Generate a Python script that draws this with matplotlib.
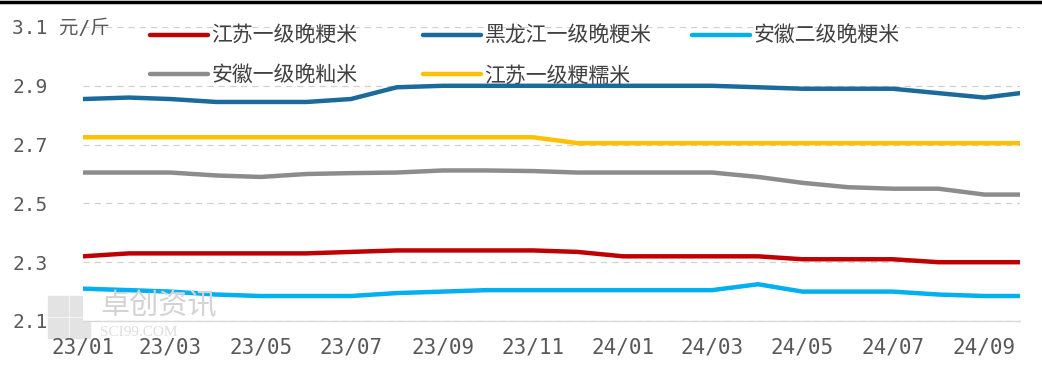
"""Rice price trends, 23/01 - 24/09
"""
import matplotlib as mpl
import matplotlib.pyplot as plt
import matplotlib.dates as mdates
import matplotlib.patches as mpatches
from matplotlib.lines import Line2D
import pandas as pd

mpl.rcParams['font.family'] = ['DejaVu Sans Mono', 'Noto Sans CJK SC']

dates = list(pd.date_range('2023-01-01', '2024-09-01', freq='MS')) + [pd.Timestamp('2024-09-25')]

js_late_jp = [2.32, 2.33, 2.33, 2.33, 2.33, 2.33, 2.335, 2.34, 2.34, 2.34, 2.34, 2.335,
              2.32, 2.32, 2.32, 2.32, 2.31, 2.31, 2.31, 2.30, 2.30, 2.30]
hlj_late_jp = [2.855, 2.86, 2.855, 2.845, 2.845, 2.845, 2.855, 2.895, 2.9, 2.9, 2.9, 2.9,
               2.9, 2.9, 2.9, 2.895, 2.89, 2.89, 2.89, 2.875, 2.86, 2.875]
ah_late_jp2 = [2.21, 2.205, 2.2, 2.19, 2.185, 2.185, 2.185, 2.195, 2.2, 2.205, 2.205, 2.205,
               2.205, 2.205, 2.205, 2.225, 2.2, 2.2, 2.2, 2.19, 2.185, 2.185]
ah_late_xian = [2.605, 2.605, 2.605, 2.595, 2.59, 2.6, 2.603, 2.605, 2.612, 2.612, 2.61, 2.605,
                2.605, 2.605, 2.605, 2.59, 2.57, 2.555, 2.55, 2.55, 2.53, 2.53]
js_glutinous = [2.725, 2.725, 2.725, 2.725, 2.725, 2.725, 2.725, 2.725, 2.725, 2.725, 2.725, 2.705,
                2.705, 2.705, 2.705, 2.705, 2.705, 2.705, 2.705, 2.705, 2.705, 2.705]

series = [
    ('江苏一级晚粳米', js_late_jp, '#C00000'),
    ('黑龙江一级晚粳米', hlj_late_jp, '#1B6A9C'),
    ('安徽二级晚粳米', ah_late_jp2, '#00B0F0'),
    ('安徽一级晚籼米', ah_late_xian, '#8C8C8C'),
    ('江苏一级粳糯米', js_glutinous, '#FFC000'),
]

yticks = [2.1, 2.3, 2.5, 2.7, 2.9, 3.1]
ytick_labels = ['2.1', '2.3', '2.5', '2.7', '2.9', '3.1 元/斤']

W, H = 1042, 377
fig = plt.figure(figsize=(W / 100, H / 100), dpi=100)
ax = fig.add_axes([83 / W, 1 - 321 / H, (1020 - 83) / W, (321 - 27) / H])

lines = {}
for name, vals, col in series:
    ln, = ax.plot(dates, vals, color=col, linewidth=3.2, solid_capstyle='round', label=name, zorder=3)
    lines[name] = ln

ax.set_xlim(dates[0], dates[-1])
ax.set_ylim(2.1, 3.1)
ax.set_yticks(yticks)
ax.set_yticklabels(ytick_labels)
for lab in ax.get_yticklabels():
    lab.set_ha('left')
ax.tick_params(axis='y', length=0, pad=51, labelsize=14, labelcolor='#595959')

ax.xaxis.set_major_locator(mdates.MonthLocator(bymonth=[1, 3, 5, 7, 9, 11]))
ax.xaxis.set_major_formatter(mdates.DateFormatter('%y/%m'))
ax.tick_params(axis='x', length=0, pad=12, labelsize=15, labelcolor='#595959')

ax.grid(axis='y', linestyle=(0, (5, 4)), color='#D0D0D0', linewidth=0.9)
for s in ['top', 'right', 'left']:
    ax.spines[s].set_visible(False)
ax.spines['bottom'].set_color('#D9D9D9')
ax.spines['bottom'].set_linewidth(1.0)
ax.set_axisbelow(True)

# legend laid out as three columns, like the original
cols = [
    (150, ['江苏一级晚粳米', '安徽一级晚籼米']),
    (423, ['黑龙江一级晚粳米', '江苏一级粳糯米']),
    (692, ['安徽二级晚粳米']),
]
for x0, names in cols:
    leg = fig.legend([lines[n] for n in names], names, loc='upper left',
                     bbox_to_anchor=(x0 / W, 1 - 25 / H), frameon=False,
                     handlelength=2.8, handletextpad=0.15, labelspacing=0.85,
                     borderpad=0, borderaxespad=0,
                     prop={'family': 'Noto Sans CJK SC', 'size': 15})
    for t in leg.get_texts():
        t.set_color('#404040')

# watermark
for (wx, wy) in [(48, 296), (70, 296), (48, 318), (70, 318)]:
    fig.add_artist(mpatches.Rectangle((wx / W, 1 - (wy + 20) / H), 20 / W, 20 / H,
                                      color='#E3E3E3', zorder=0))
fig.text(100 / W, 1 - 306 / H, '卓创资讯', fontsize=21, color='#D3D3D3',
         family='Noto Sans CJK SC', va='center', zorder=0)
fig.text(100 / W, 1 - 332 / H, 'SCI99.COM', fontsize=11, color='#DDDDDD',
         family='Liberation Serif', va='center', zorder=0)

# black frame line along the top edge
fig.add_artist(Line2D([0, 1], [1 - 1.5 / H, 1 - 1.5 / H], color='black', linewidth=2.5))

plt.savefig('out.png', dpi=100)
plt.close()
